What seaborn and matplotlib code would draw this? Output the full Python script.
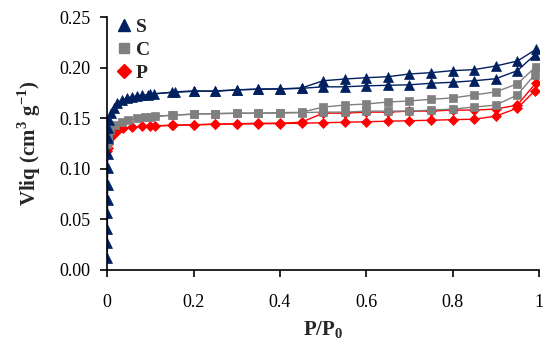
import numpy as np
import pandas as pd
import seaborn as sns
import matplotlib.pyplot as plt
from matplotlib.lines import Line2D

# relative pressure points (shared by all samples above the micropore region)
mid_x = [0.25, 0.3, 0.35, 0.4, 0.45, 0.5, 0.55, 0.6, 0.65, 0.7, 0.75, 0.8, 0.85, 0.9, 0.95]
des_x = [0.993, 0.95, 0.9, 0.85, 0.8, 0.75, 0.7, 0.65, 0.6, 0.55, 0.5, 0.45, 0.4, 0.35, 0.3, 0.25, 0.2, 0.15, 0.1]

# S sample
s_ads_x = [0.0002, 0.0003, 0.0004, 0.0005, 0.0006, 0.0007, 0.0008, 0.0009, 0.001, 0.0012,
           0.003, 0.008, 0.015, 0.022, 0.034, 0.045, 0.057, 0.069, 0.08, 0.095, 0.108, 0.157, 0.2] + mid_x + [0.99]
s_ads_y = [0.012, 0.027, 0.040, 0.056, 0.069, 0.084, 0.101, 0.115, 0.130, 0.140,
           0.148, 0.155, 0.160, 0.165, 0.168, 0.170, 0.171, 0.172, 0.173, 0.173, 0.174, 0.176, 0.177,
           0.1765, 0.178, 0.1786, 0.1788, 0.1795, 0.181, 0.181, 0.182, 0.1825, 0.183, 0.1845, 0.1855,
           0.187, 0.189, 0.197, 0.2125]
s_des_y = [0.218, 0.2065, 0.2016, 0.198, 0.197, 0.195, 0.1937, 0.191, 0.190, 0.1887, 0.187,
           0.1798, 0.179, 0.1788, 0.178, 0.177, 0.1765, 0.1755, 0.1738]

# C sample
c_ads_x = [0.0003, 0.0006, 0.001, 0.002, 0.007, 0.018, 0.034, 0.048, 0.069, 0.088, 0.111, 0.152, 0.2] + mid_x + [0.99]
c_ads_y = [0.124, 0.127, 0.130, 0.133, 0.138, 0.143, 0.1465, 0.148, 0.150, 0.151, 0.152, 0.153, 0.154,
           0.1545, 0.155, 0.155, 0.155, 0.1555, 0.156, 0.156, 0.157, 0.157, 0.157, 0.158, 0.159,
           0.161, 0.163, 0.173, 0.193]
c_des_y = [0.201, 0.184, 0.176, 0.173, 0.170, 0.1687, 0.167, 0.166, 0.164, 0.163, 0.161,
           0.1558, 0.1555, 0.155, 0.1548, 0.1545, 0.154, 0.153, 0.151]

# P sample
p_ads_x = [0.0003, 0.0006, 0.001, 0.002, 0.011, 0.022, 0.037, 0.057, 0.08, 0.111, 0.152, 0.2] + mid_x + [0.99]
p_ads_y = [0.118, 0.121, 0.124, 0.127, 0.132, 0.137, 0.140, 0.141, 0.142, 0.1425, 0.143, 0.1435,
           0.144, 0.1443, 0.1445, 0.1447, 0.145, 0.1455, 0.146, 0.1465, 0.147, 0.1475, 0.148,
           0.1485, 0.149, 0.152, 0.160, 0.177]
p_des_y = [0.185, 0.163, 0.159, 0.158, 0.158, 0.157, 0.157, 0.156, 0.156, 0.155, 0.155,
           0.146, 0.145, 0.145, 0.1445, 0.144, 0.1435, 0.143, 0.142]

labels = ["S", "C", "P"]
colors = {"S": "#002060", "C": "#808080", "P": "#FF0000"}
markers = {"S": "^", "C": "s", "P": "D"}
sizes = {"S": 6.5, "C": 5.5, "P": 5.2}

series = {
    "S": (s_ads_x, s_ads_y, s_des_y),
    "C": (c_ads_x, c_ads_y, c_des_y),
    "P": (p_ads_x, p_ads_y, p_des_y),
}

sns.set_theme(style="ticks")
plt.rcParams["font.family"] = ["Liberation Serif", "DejaVu Serif"]
plt.rcParams["mathtext.fontset"] = "custom"
plt.rcParams["mathtext.bf"] = "Liberation Serif:bold"
plt.rcParams["mathtext.rm"] = "Liberation Serif"

fig = plt.figure(figsize=(5.5, 3.47), dpi=100)
ax = fig.add_axes([0.195, 0.222, 0.785, 0.729])

for name in ["P", "C", "S"]:
    ax_x, ax_y, de_y = series[name]
    for xs, ys in [(ax_x, ax_y), (des_x, de_y)]:
        df = pd.DataFrame({"x": xs, "y": ys})
        sns.lineplot(data=df, x="x", y="y", sort=False, ax=ax, color=colors[name],
                     marker=markers[name], markersize=sizes[name], markeredgecolor=colors[name],
                     markeredgewidth=0.5, linewidth=1.0)

ax.set_xlim(0, 1)
ax.set_ylim(0, 0.25)
ax.set_xticks([0, 0.2, 0.4, 0.6, 0.8, 1])
ax.set_xticklabels(["0", "0.2", "0.4", "0.6", "0.8", "1"])
ax.set_yticks(np.arange(0, 0.251, 0.05))
ax.set_yticklabels([f"{v:.2f}" for v in np.arange(0, 0.251, 0.05)])
ax.tick_params(axis="both", direction="out", length=5, width=1.2, labelsize=13, colors="black")
ax.tick_params(axis="x", pad=12)
ax.tick_params(axis="y", pad=7)
for s in ["left", "bottom"]:
    ax.spines[s].set_linewidth(1.2)
    ax.spines[s].set_color("black")
sns.despine(ax=ax)

ax.set_xlabel(r"P/P$_\mathbf{0}$", fontsize=15, fontweight="bold", labelpad=6)
ax.set_ylabel(r"Vliq (cm$^\mathbf{3}$ g$^\mathbf{-1}$)", fontsize=15, fontweight="bold", labelpad=12)

handles = [Line2D([], [], linestyle="none", marker=markers[n], color=colors[n],
                  markersize=sizes[n] + 2) for n in labels]
leg = ax.legend(handles, labels, loc="upper left", bbox_to_anchor=(-0.015, 1.05), frameon=False,
                handletextpad=0.1, labelspacing=0.28, handlelength=1.0, borderaxespad=0.3,
                prop={"weight": "bold", "size": 14})

fig.savefig("out.png", dpi=100)
